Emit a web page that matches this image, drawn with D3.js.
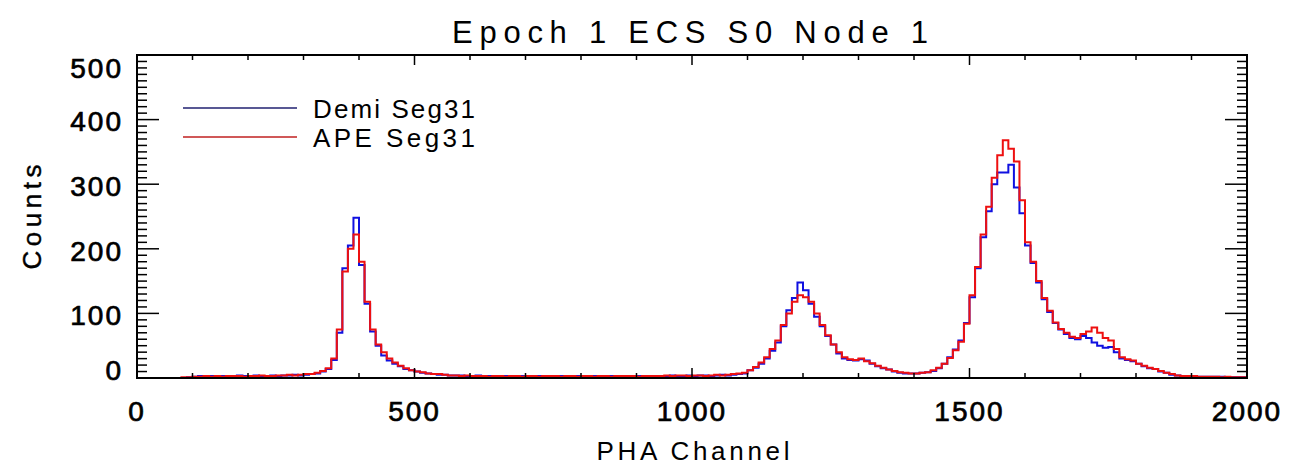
<!DOCTYPE html>
<html>
<head>
<meta charset="utf-8">
<script src="https://cdn.jsdelivr.net/npm/d3@7"></script>
<style>
  html, body { margin: 0; padding: 0; background: #fff; }
  svg { display: block; }
  text { font-family: "Liberation Sans", "DejaVu Sans", sans-serif; fill: #000; }
</style>
</head>
<body>
<svg id="chart" width="1296" height="467"></svg>
<script>
// ---------------- DATA ----------------
const titleText = "Epoch 1 ECS S0 Node 1";
const xLabel = "PHA Channel";
const yLabel = "Counts";
const seriesNames = ["Demi Seg31", "APE Seg31"];
const xTicks = [0, 500, 1000, 1500, 2000];
const yTicks = [0, 100, 200, 300, 400, 500];
const binWidth = 10;

// counts per 10-channel bin, channels 0..1990
const demiCounts = [
  0,0,0,0,0,0,0,0,0,1,
  2,3,2,3,2,3,3,2,4,3,
  3,4,3,3,4,3,4,4,5,4,
  5,6,7,10,14,28,70,170,205,248,
  175,115,72,50,35,27,22,18,14,12,
  10,8,7,6,5,5,4,4,4,3,
  3,4,3,3,2,3,3,2,3,3,
  2,3,3,2,3,2,3,3,2,3,
  3,2,3,3,2,3,3,3,2,3,
  3,3,2,3,3,3,4,3,3,4,
  3,4,4,3,4,5,4,5,6,7,
  12,16,22,30,42,55,80,105,124,148,
  136,115,95,80,65,52,38,30,28,27,
  29,27,22,18,15,13,10,8,7,7,
  7,8,9,11,15,22,32,44,58,85,
  125,170,218,258,300,318,318,330,295,255,
  205,178,148,122,102,85,75,68,62,60,
  65,62,55,50,47,48,40,30,28,26,
  22,18,15,14,10,8,5,4,3,3,
  3,2,2,2,2,2,1,1,1,1
];
const apeCounts = [
  0,0,0,0,0,0,0,0,1,1,
  2,2,3,2,3,2,3,3,3,2,
  3,3,4,3,3,4,4,5,4,5,
  6,6,8,11,15,30,75,165,200,222,
  180,118,75,52,40,30,24,19,15,12,
  10,9,7,6,6,5,4,4,3,4,
  3,3,3,2,3,3,2,3,3,2,
  3,3,2,3,3,3,2,3,3,2,
  3,3,2,3,3,2,3,3,3,3,
  2,3,3,3,3,4,3,4,4,3,
  4,4,3,4,5,4,5,6,7,8,
  12,17,24,32,45,58,82,100,118,128,
  125,118,100,82,66,52,40,32,29,28,
  30,26,23,19,16,13,11,9,8,7,
  7,8,9,12,16,22,31,43,56,84,
  128,172,222,265,310,345,368,355,335,275,
  210,180,150,124,104,86,76,70,64,62,
  68,72,78,70,62,58,45,32,29,27,
  22,19,16,14,11,8,6,4,3,3,
  3,2,2,2,2,1,2,1,1,1
];
const seriesColors = ["#1010e0", "#ee1010"];
const legendColors = ["#202070", "#c02020"];

// ---------------- CHART ----------------
const svg = d3.select("#chart");
const L = 137, R = 1247, T = 55, B = 378;

const x = d3.scaleLinear().domain([0, 2000]).range([L, R]);
const y = d3.scaleLinear().domain([0, 500]).range([B, T]);

// series lines (step histogram)
const seriesData = [demiCounts, apeCounts].map(arr => {
  const pts = arr.map((v, i) => ({c: i * binWidth, v}));
  pts.push({c: arr.length * binWidth, v: arr[arr.length - 1]});
  return pts;
});
const line = d3.line().x(d => x(d.c)).y(d => y(d.v)).curve(d3.curveStepAfter);

svg.append("clipPath").attr("id", "clip")
  .append("rect").attr("x", L).attr("y", T).attr("width", R - L).attr("height", B - T);

const gLines = svg.append("g").attr("clip-path", "url(#clip)");
seriesData.forEach((pts, i) => {
  gLines.append("path")
    .attr("d", line(pts))
    .attr("fill", "none")
    .attr("stroke", seriesColors[i])
    .attr("stroke-width", 2)
    .attr("stroke-linejoin", "miter");
});

// frame with ticks on all sides
const axisG = svg.append("g");
const xMinor = d3.range(0, 2001, 100);
const yMinor = d3.range(0, 501, 10);

axisG.selectAll(".xb").data(xMinor).join("line")
  .attr("x1", d => x(d)).attr("x2", d => x(d))
  .attr("y1", B).attr("y2", d => B - (d % 500 === 0 ? 10 : 5))
  .attr("stroke", "#000").attr("stroke-width", 1.5);
axisG.selectAll(".xt").data(xMinor).join("line")
  .attr("x1", d => x(d)).attr("x2", d => x(d))
  .attr("y1", T).attr("y2", d => T + (d % 500 === 0 ? 10 : 5))
  .attr("stroke", "#000").attr("stroke-width", 1.5);
axisG.selectAll(".yl").data(yMinor).join("line")
  .attr("x1", L).attr("x2", d => L + (d % 100 === 0 ? 22 : 10))
  .attr("y1", d => y(d)).attr("y2", d => y(d))
  .attr("stroke", "#000").attr("stroke-width", 1.5);
axisG.selectAll(".yr").data(yMinor).join("line")
  .attr("x1", R).attr("x2", d => R - (d % 100 === 0 ? 22 : 10))
  .attr("y1", d => y(d)).attr("y2", d => y(d))
  .attr("stroke", "#000").attr("stroke-width", 1.5);

axisG.append("rect")
  .attr("x", L).attr("y", T).attr("width", R - L).attr("height", B - T)
  .attr("fill", "none").attr("stroke", "#000").attr("stroke-width", 2);

// tick labels
svg.selectAll(".xl").data(xTicks).join("text")
  .attr("x", d => x(d)).attr("y", 421)
  .attr("text-anchor", "middle")
  .attr("font-size", 28).attr("letter-spacing", 2)
  .attr("stroke", "#000").attr("stroke-width", 0.7)
  .text(d => d);

svg.selectAll(".ylab").data(yTicks).join("text")
  .attr("x", 123)
  .attr("y", d => {
    let yy = y(d) + 2;
    if (d === 500) yy = 68;
    if (d === 0) yy = 370;
    return yy;
  })
  .attr("dy", "0.35em")
  .attr("text-anchor", "end")
  .attr("font-size", 28).attr("letter-spacing", 2)
  .attr("stroke", "#000").attr("stroke-width", 0.7)
  .text(d => d);

// title
svg.append("text")
  .attr("x", 690).attr("y", 43)
  .attr("text-anchor", "middle")
  .attr("font-size", 31)
  .attr("textLength", 476).attr("lengthAdjust", "spacing")
  .text(titleText);

// axis titles
svg.append("text")
  .attr("x", 693).attr("y", 460)
  .attr("text-anchor", "middle")
  .attr("font-size", 26)
  .attr("textLength", 193).attr("lengthAdjust", "spacing")
  .text(xLabel);

svg.append("text")
  .attr("transform", "translate(41,217) rotate(-90)")
  .attr("text-anchor", "middle")
  .attr("font-size", 26)
  .attr("stroke", "#000").attr("stroke-width", 0.4)
  .attr("textLength", 105).attr("lengthAdjust", "spacing")
  .text(yLabel);

// legend
const legY = [108, 137];
seriesNames.forEach((name, i) => {
  svg.append("line")
    .attr("x1", 183).attr("x2", 297)
    .attr("y1", legY[i]).attr("y2", legY[i])
    .attr("stroke", legendColors[i]).attr("stroke-width", 1.6);
  svg.append("text")
    .attr("x", 313).attr("y", legY[i] + 10)
    .attr("font-size", 26)
    .attr("textLength", 162).attr("lengthAdjust", "spacing")
    .text(name);
});
</script>
</body>
</html>
